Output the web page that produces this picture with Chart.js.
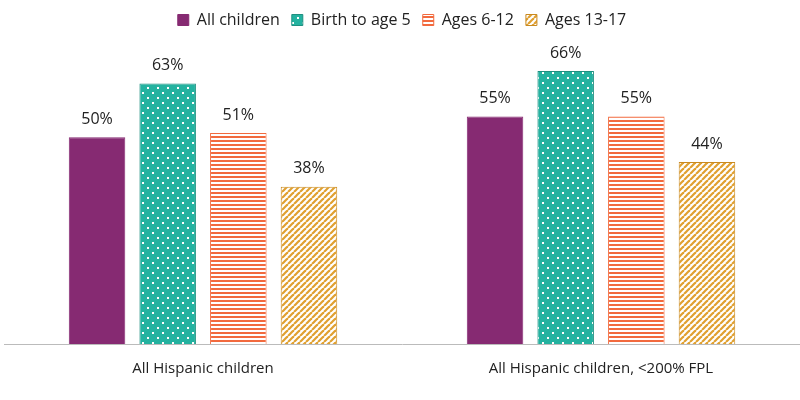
<!DOCTYPE html>
<html><head><meta charset="utf-8">
<script src="https://cdn.jsdelivr.net/npm/chart.js@4"></script>
<style>body{margin:0;background:#fff}#wrap{width:800px;height:400px}</style>
</head><body><div id="wrap"><canvas id="c"></canvas></div>
<script>
const categories = ['All Hispanic children', 'All Hispanic children, <200% FPL'];
const seriesNames = ['All children', 'Birth to age 5', 'Ages 6-12', 'Ages 13-17'];
const allChildren = [50, 55];
const birthTo5 = [63, 66];
const ages6to12 = [51, 55];
const ages13to17 = [38, 44];

const mk = (s, draw) => { const c = document.createElement('canvas'); c.width = c.height = s; draw(c.getContext('2d')); return c.getContext('2d').createPattern(c, 'repeat'); };
const dots = mk(10, g => { g.fillStyle = '#24b2a0'; g.fillRect(0,0,10,10); g.fillStyle = '#fff'; g.fillRect(2,2,2,2); g.fillRect(7,7,2,2); });
const hstripes = mk(4, g => { g.fillStyle = '#fff'; g.fillRect(0,0,4,4); g.fillStyle = '#f26a3e'; g.fillRect(0,0,4,2); });
const diag = mk(6, g => { g.fillStyle = '#fff'; g.fillRect(0,0,6,6); g.strokeStyle = '#e0a030'; g.lineWidth = 2.2;
  for (let k = -6; k <= 12; k += 6) { g.beginPath(); g.moveTo(k, 6); g.lineTo(k + 6, 0); g.stroke(); } });

const ds = (label, data, bg, border) => ({ label, data, backgroundColor: bg, borderColor: border, borderWidth: 1, barPercentage: 0.8, categoryPercentage: 0.71 });

const labelPlugin = { id: 'vals', afterDatasetsDraw(chart) {
  const g = chart.ctx; g.save(); g.font = '16px "Open Sans"'; g.fillStyle = '#222'; g.textAlign = 'center'; g.textBaseline = 'bottom';
  chart.data.datasets.forEach((d, i) => chart.getDatasetMeta(i).data.forEach((b, j) => g.fillText(d.data[j] + '%', b.x, b.y - 10)));
  g.restore(); } };

new Chart(document.getElementById('c'), {
  type: 'bar',
  data: { labels: categories, datasets: [
    ds(seriesNames[0], allChildren, '#862a72', '#862a72'),
    ds(seriesNames[1], birthTo5, dots, '#1f8f80'),
    ds(seriesNames[2], ages6to12, hstripes, '#f26a3e'),
    ds(seriesNames[3], ages13to17, diag, '#c98a20')
  ]},
  options: {
    responsive: true, maintainAspectRatio: false, animation: false,
    layout: { padding: { top: 0, left: 4, right: 0, bottom: 14 } },
    plugins: {
      legend: { position: 'top', labels: { font: { family: 'Open Sans', size: 16 }, color: '#222', boxWidth: 11, boxHeight: 11, padding: 12 } },
      tooltip: { enabled: false }
    },
    scales: {
      x: { grid: { display: false }, border: { color: '#bbb' }, ticks: { font: { family: 'Open Sans', size: 15 }, color: '#222', padding: 8 } },
      y: { display: false, min: 0, max: 74 }
    }
  },
  plugins: [labelPlugin]
});
</script></body></html>
